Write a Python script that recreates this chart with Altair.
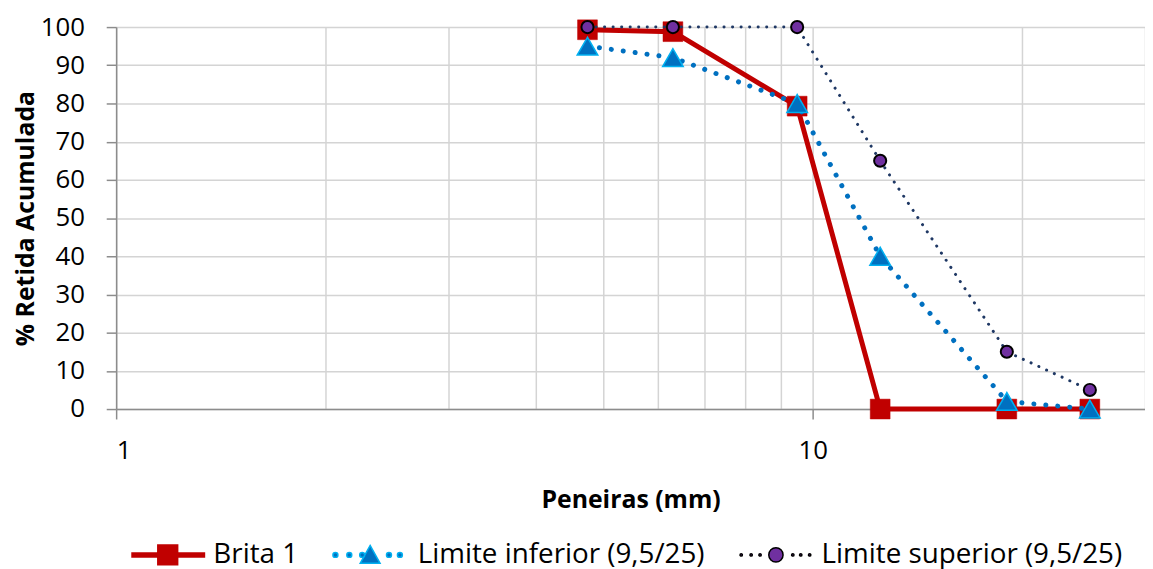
import altair as alt
import pandas as pd

# ---- data ----
peneiras = [4.75, 6.3, 9.5, 12.5, 19, 25]
brita1 = [99.3, 98.8, 79.3, 0, 0, 0]
lim_inf = [95, 92, 80, 40, 2, 0]
lim_sup = [100, 100, 100, 65, 15, 5]
series_names = ["Brita 1", "Limite inferior (9,5/25)", "Limite superior (9,5/25)"]
x_grid_values = [1, 2, 3, 4, 5, 6, 7, 8, 9, 10, 20, 30]
x_label_values = [1, 10]
y_tick_values = [0, 10, 20, 30, 40, 50, 60, 70, 80, 90, 100]

rows = []
for name, vals in zip(series_names, [brita1, lim_inf, lim_sup]):
    for p, v in zip(peneiras, vals):
        rows.append({"peneira": p, "valor": v, "serie": name})
df = pd.DataFrame(rows)

FONT = "Open Sans"
RED = "#C00000"
BLUE = "#0070C0"
LBLUE = "#00B0F0"
NAVY = "#1F3864"
PURPLE = "#7030A0"
AXIS_GRAY = "#8C8C8C"
GRID_GRAY = "#D4D4D4"

label_test = " || ".join(f"datum.value == {v}" for v in x_label_values)

x_enc = alt.X(
    "peneira:Q",
    scale=alt.Scale(type="log", domain=[1, 30], nice=False),
    axis=alt.Axis(
        values=x_grid_values,
        labelExpr=f"({label_test}) ? format(datum.value, 'd') : ''",
        title="Peneiras (mm)",
        tickOpacity={"condition": {"test": label_test, "value": 1}, "value": 0},
        tickSize=10,
        labelPadding=19,
        titlePadding=24,
        labelOverlap=False,
    ),
)
y_enc = alt.Y(
    "valor:Q",
    scale=alt.Scale(domain=[0, 100], nice=False),
    axis=alt.Axis(
        values=y_tick_values,
        title="% Retida Acumulada",
        tickSize=10,
        labelPadding=22,
        titlePadding=2,
    ),
)

base = alt.Chart(df).encode(x=x_enc, y=y_enc)


def sub(name):
    return base.transform_filter(alt.datum.serie == name)


l1 = sub(series_names[0]).mark_line(color=RED, strokeWidth=5, strokeJoin="round", strokeCap="round")
p1 = sub(series_names[0]).mark_point(shape="square", filled=True, fill=RED, stroke=RED,
                                     strokeWidth=0.5, size=400, opacity=1)
l2 = sub(series_names[1]).mark_line(color=BLUE, strokeWidth=5, strokeDash=[0.1, 12],
                                    strokeCap="round", strokeJoin="round")
p2 = sub(series_names[1]).mark_point(shape="triangle-up", filled=True, fill=BLUE, stroke=LBLUE,
                                     strokeWidth=1.5, size=430, opacity=1)
l3 = sub(series_names[2]).mark_line(color=NAVY, strokeWidth=3, strokeDash=[0.1, 8.5],
                                    strokeCap="round", strokeJoin="round")
p3 = sub(series_names[2]).mark_point(shape="circle", filled=True, fill=PURPLE, stroke="black",
                                     strokeWidth=2, size=150, opacity=1)


def circ(cx, r):
    return f"M{cx - r},0A{r},{r} 0 1,0 {cx + r},0A{r},{r} 0 1,0 {cx - r},0Z"


path_brita = "M-6.4,-0.2H0.9V0.2H-6.4Z M-3.8,-1H-1.8V1H-3.8Z"
path_inf = "".join(circ(c, 0.25) for c in [-6.5, -5.1, -3.8, -1.1, 0.0]) + "M-3,-0.95L-2,0.85L-4,0.85Z"
path_sup = "".join(circ(c, 0.12) for c in [-6.3, -5.3, -4.4, -1.1, -0.3, 0.6]) + circ(-2.8, 0.72)

legend = alt.Legend(
    title=None,
    orient="none",
    legendX=66,
    legendY=518,
    direction="horizontal",
    labelFont=FONT,
    labelFontSize=28,
    labelColor="black",
    labelOffset=4,
    symbolSize=400,
    symbolStrokeWidth=1.5,
    columnPadding=31,
    labelLimit=600,
)

leg = alt.Chart(df).transform_filter("false").mark_point(filled=True, size=400, opacity=1, strokeWidth=1.5).encode(
    fill=alt.Fill("serie:N", scale=alt.Scale(domain=series_names, range=[RED, BLUE, PURPLE]), legend=legend),
    stroke=alt.Stroke("serie:N", scale=alt.Scale(domain=series_names, range=[RED, LBLUE, "black"]), legend=legend),
    shape=alt.Shape("serie:N", scale=alt.Scale(domain=series_names, range=[path_brita, path_inf, path_sup]), legend=legend),
)

chart = (
    alt.layer(l1, p1, l2, p2, l3, p3, leg)
    .properties(width=1037, height=385, padding={"left": 5, "top": 4, "right": 0, "bottom": 0})
    .configure_view(stroke=None)
    .configure_axis(
        labelFont=FONT,
        labelFontSize=26,
        labelColor="black",
        titleFont=FONT,
        titleFontSize=25,
        titleFontWeight="bold",
        titleColor="black",
        domainColor=AXIS_GRAY,
        domainWidth=1.5,
        tickColor=AXIS_GRAY,
        tickWidth=1.5,
        gridColor=GRID_GRAY,
        gridWidth=1.5,
    )
)

chart.save("out.html", embed_options={"renderer": "svg", "actions": False})
